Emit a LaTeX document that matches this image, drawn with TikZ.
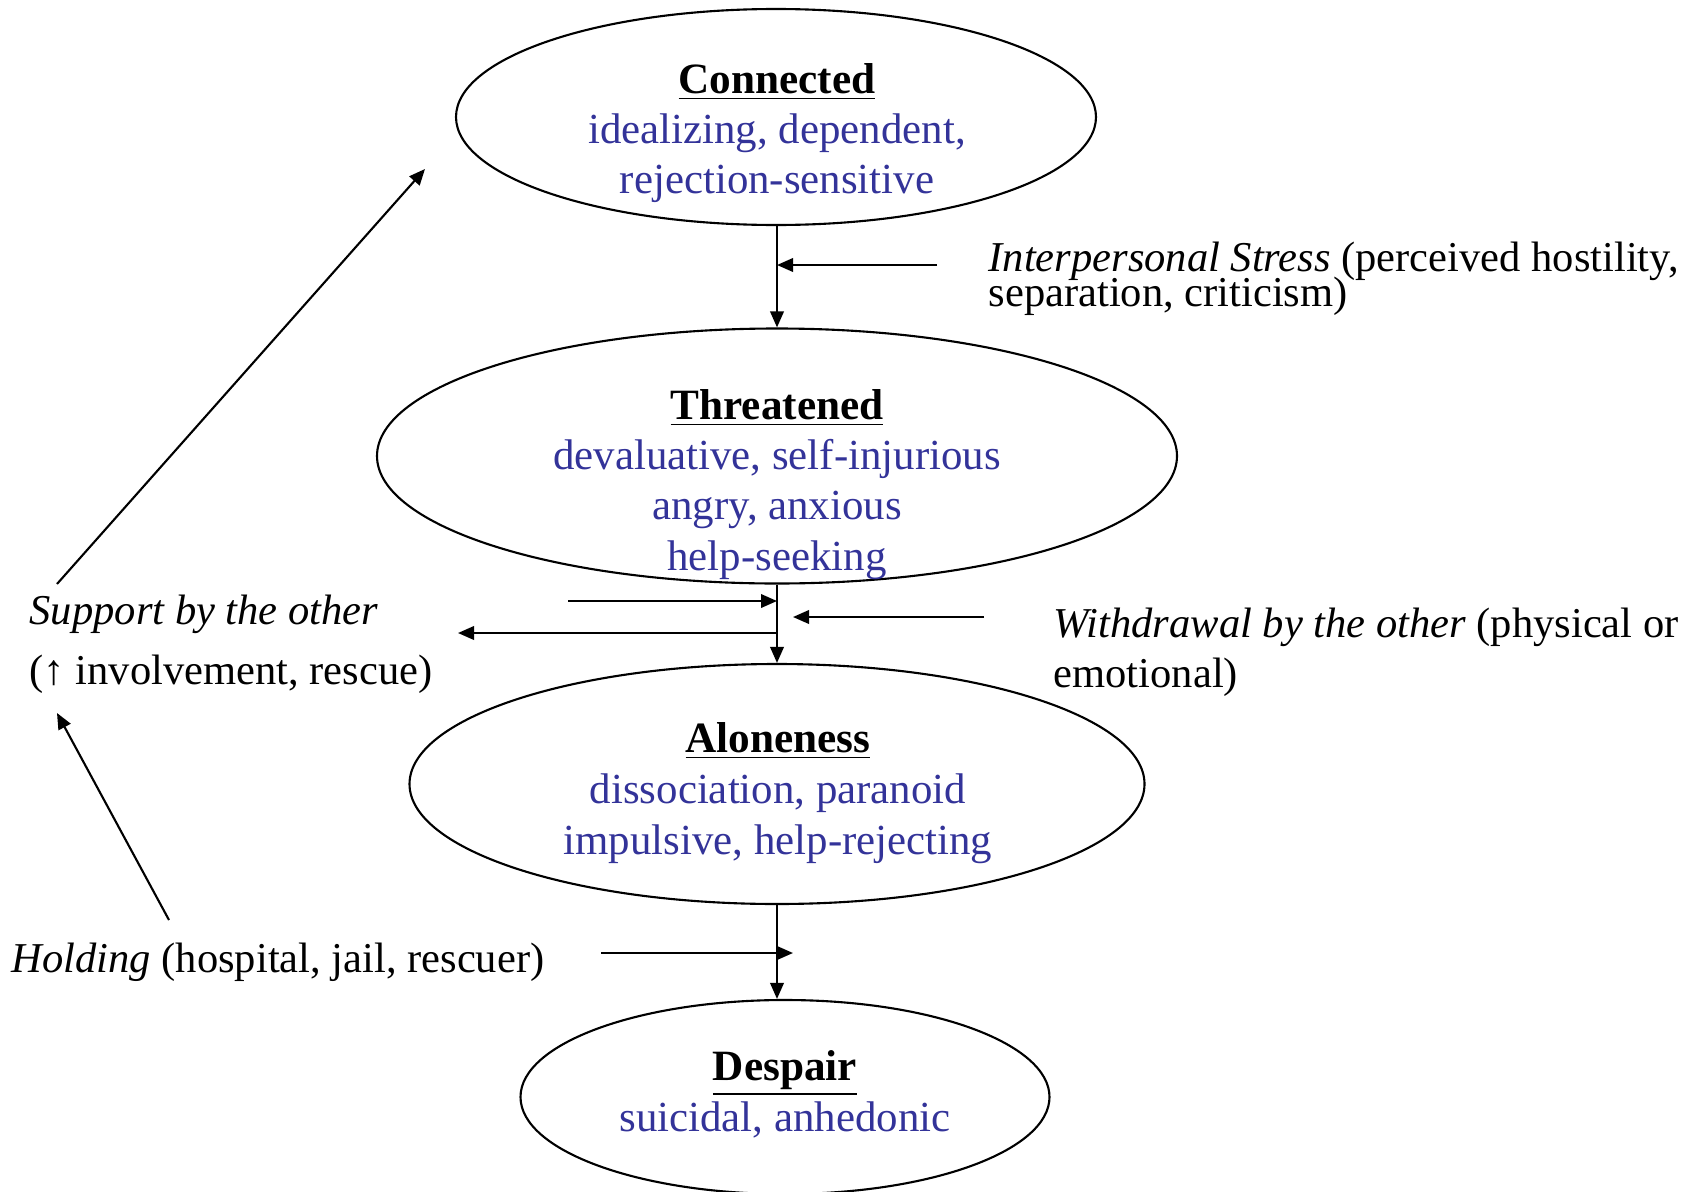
\documentclass[tikz,border=0pt]{standalone}
\usepackage{fontspec}
\setmainfont{Liberation Serif}
\usetikzlibrary{arrows.meta,shapes.geometric}
\definecolor{stateblue}{RGB}{51,51,153}
\tikzset{
  stateell/.style={draw, ellipse, inner sep=0pt, line width=0.6pt},
  ttl/.style={font=\fontsize{12.3}{14}\selectfont\bfseries, anchor=base, inner sep=0pt},
  desc/.style={font=\fontsize{12.2}{14}\selectfont, text=stateblue, anchor=base, inner sep=0pt},
  side/.style={font=\fontsize{12.1}{14}\selectfont, anchor=base west, inner sep=0pt},
  arr/.style={line width=0.6pt, -{Triangle[length=1.6mm,width=1.35mm]}}
}
\begin{document}
\begin{tikzpicture}[x=0.1mm,y=-0.1mm]
\useasboundingbox (0,0) rectangle (1696,1191);

% ellipses
\node[stateell, minimum width=64mm, minimum height=21.6mm] (C) at (776,117) {};
\node[stateell, minimum width=80mm, minimum height=25.5mm] (T) at (777,456) {};
\node[stateell, minimum width=73.5mm, minimum height=24mm] (A) at (777,784) {};
\node[stateell, minimum width=52.9mm, minimum height=19.4mm] (D) at (785,1097) {};

% ellipse texts
\node[ttl] (c0) at (777,93) {\underline{Connected}};
\node[desc] (c1) at (777,143) {idealizing, dependent,};
\node[desc] (c2) at (777,193) {rejection-sensitive};

\node[ttl] (t0) at (777,419) {\underline{Threatened}};
\node[desc] (t1) at (777,469) {devaluative, self-injurious};
\node[desc] (t2) at (777,519) {angry, anxious};
\node[desc] (t3) at (777,570) {help-seeking};

\node[ttl] (a0) at (778,752) {\underline{Aloneness}};
\node[desc] (a1) at (778,803) {dissociation, paranoid};
\node[desc] (a2) at (778,854) {impulsive, help-rejecting};

\node[ttl] (d0) at (785,1080) {\underline{Despair}};
\node[desc] (d1) at (785,1131) {suicidal, anhedonic};

% side texts
\node[side] (s1) at (988,271) {\textit{Interpersonal Stress} (perceived hostility,};
\node[side] (s2) at (988,306) {separation, criticism)};
\node[side] (u1) at (29,624) {\textit{Support by the other}};
\node[side] (u2) at (29,684) {(↑ involvement, rescue)};
\node[side] (w1) at (1053,637) {\textit{Withdrawal by the other} (physical or};
\node[side] (w2) at (1053,687) {emotional)};
\node[side] (h1) at (11,972) {\textit{Holding} (hospital, jail, rescuer)};

% main flow
\draw[arr] (T.north |- C.south) -- (T.north);
\draw[arr] (T.south) -- (A.north);
\draw[arr] (A.south) -- (A.south |- D.north);

% side arrows
\coordinate (stress) at (937,265);
\draw[arr] (stress) -- (stress -| T.north);
\coordinate (supin) at (568,601);
\draw[arr] (supin) -- (supin -| T.south);
\coordinate (supout) at (458,633);
\draw[arr] (supout -| T.south) -- (supout);
\coordinate (wd) at (984,617);
\coordinate (wdtip) at (793,617);
\draw[arr] (wd) -- (wdtip);
\coordinate (hold) at (601,953);
\coordinate (holdtip) at (793,953);
\draw[arr] (hold) -- (holdtip);

% diagonals
\coordinate (holdtail) at (169,920);
\coordinate (suptip) at (57,713);
\draw[arr] (holdtail) -- (suptip);
\coordinate (suptail) at (57,584);
\coordinate (contip) at (425,169);
\draw[arr] (suptail) -- (contip);
\end{tikzpicture}
\end{document}
